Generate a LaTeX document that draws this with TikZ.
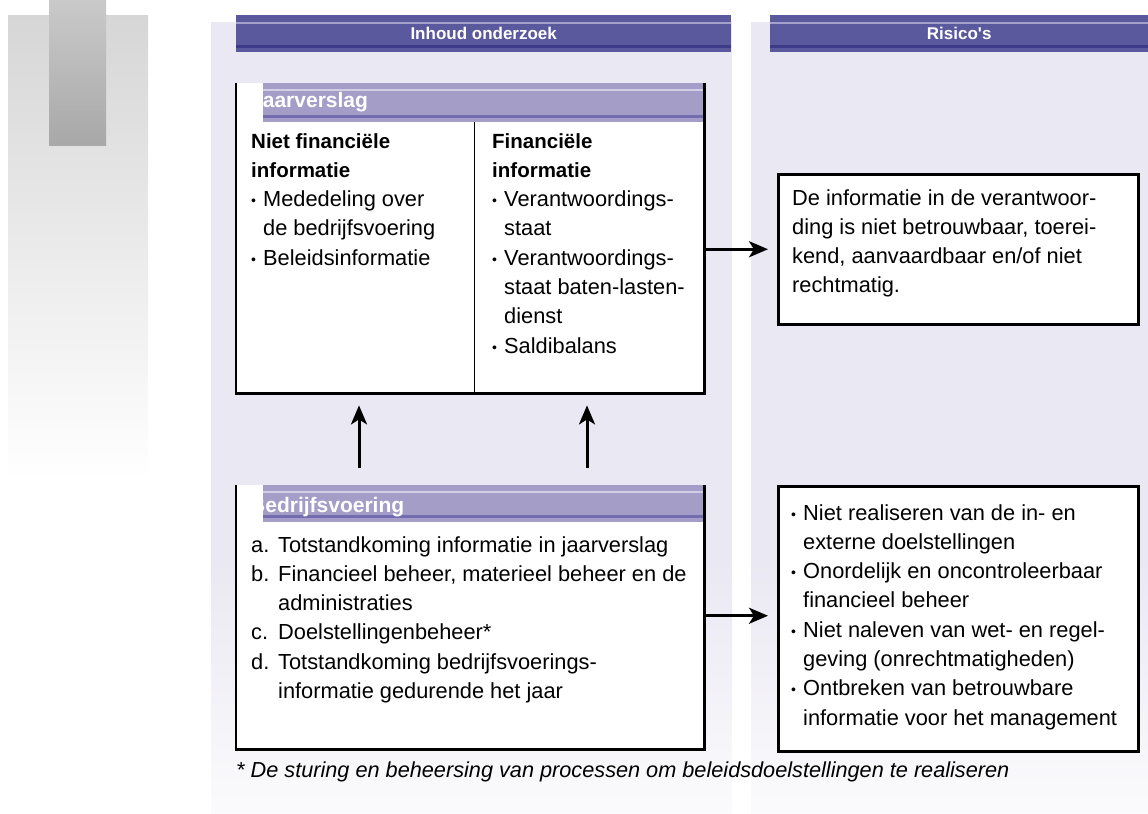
\documentclass[tikz,border=0pt]{standalone}
\usepackage{fontspec}
\setmainfont{Liberation Sans}
\usetikzlibrary{positioning,arrows.meta,calc}

\definecolor{panelBg}{HTML}{EAE8F2}
\definecolor{barDark}{HTML}{5B599D}
\definecolor{barDarkHi}{HTML}{A4A1CC}
\definecolor{barDarkLo}{HTML}{3C3A89}
\definecolor{barLight}{HTML}{A39DC8}
\definecolor{barLightHi}{HTML}{D2CEE6}
\definecolor{barLightLo}{HTML}{736CAE}

\newcommand{\bodyfont}{\fontsize{21.8bp}{29.3bp}\selectfont}
\newcommand{\rows}[1]{\begin{tabular}[t]{@{}l@{}}#1\end{tabular}}
\newcommand{\hd}[1]{{\fontsize{20.5bp}{29.3bp}\selectfont\bfseries #1}}
\newcommand{\bul}{\makebox[12bp][l]{\fontsize{14bp}{14bp}\selectfont\raisebox{1bp}{•}}}
\newcommand{\ind}{\hspace*{12bp}}
\newcommand{\itm}[1]{\makebox[27bp][l]{#1}}

\begin{document}
\begin{tikzpicture}[
    x=1bp, y=-1bp,
    darkbar/.style={rectangle, fill=barDark, text=white, inner sep=0pt, font=\fontsize{17bp}{20bp}\selectfont\bfseries},
    lightbar/.style={rectangle, fill=barLight, inner sep=0pt},
    boxfill/.style={rectangle, fill=white, inner sep=0pt},
    bartitle/.style={anchor=base west, inner sep=0pt, text=white, font=\fontsize{21bp}{24bp}\selectfont\bfseries},
    border/.style={line width=2.5bp, draw=black},
    txt/.style={anchor=base west, inner sep=0pt, font=\bodyfont},
    arrow/.style={-{Stealth[length=19bp, width=16bp, inset=5bp]}, line width=3bp}
]
\useasboundingbox (0,0) rectangle (1148,814);

% --- Background ---
\shade[top color=black!16, bottom color=white] (8,16) rectangle (148,480);
\shade[top color=black!21, bottom color=black!34] (49,0) rectangle (106,145);
\fill[panelBg] (211,22) rectangle (732,560);
\shade[top color=panelBg, bottom color=panelBg!20] (211,560) rectangle (732,814);
\fill[panelBg] (751,22) rectangle (1148,560);
\shade[top color=panelBg, bottom color=panelBg!20] (751,560) rectangle (1148,814);

% --- Column headers ---
\node[darkbar, anchor=north west, minimum width=495bp, minimum height=37bp] (hInhoud) at (236,15) {Inhoud onderzoek};
\node[darkbar, anchor=north west, minimum width=378bp, minimum height=37bp] (hRisico) at (770,15) {Risico\textquotesingle s};
\foreach \h in {hInhoud, hRisico} {
  \draw[barDarkHi, line width=1.5bp] ([yshift=-8bp]\h.north west) -- ([yshift=-8bp]\h.north east);
  \draw[barDarkLo, line width=3bp] ([yshift=6bp]\h.south west) -- ([yshift=6bp]\h.south east);
}

% --- Jaarverslag ---
\node[boxfill, anchor=north west, minimum width=468bp, minimum height=310bp] (jaar) at (236,83) {};
\node[lightbar, anchor=north east, minimum width=441bp, minimum height=39bp] (jaarHead) at (jaar.north east) {};
\draw[barLightHi, line width=1.5bp] ([yshift=-7bp]jaarHead.north west) -- ([yshift=-7bp]jaarHead.north east);
\draw[barLightLo, line width=2.5bp] ([yshift=6bp]jaarHead.south west) -- ([yshift=6bp]jaarHead.south east);
\begin{scope}
  \clip (jaarHead.south west) rectangle (jaarHead.north east);
  \node[bartitle] (jaarTitle) at (251,108) {Jaarverslag};
\end{scope}
\draw[line width=1bp] (474,122) -- (474,393);
\node[txt] (nietFin) at (251,148) {\rows{\hd{Niet financiële}\\
  \hd{informatie}\\
  \bul Mededeling over\\
  \ind de bedrijfsvoering\\
  \bul Beleidsinformatie}};
\node[txt] (fin) at (492,148) {\rows{\hd{Financiële}\\
  \hd{informatie}\\
  \bul Verantwoordings-\\
  \ind staat\\
  \bul Verantwoordings-\\
  \ind staat baten-lasten-\\
  \ind dienst\\
  \bul Saldibalans}};
\draw[border] (jaar.north west) -- (jaar.south west) -- (jaar.south east) -- (jaar.north east);

% --- Bedrijfsvoering ---
\node[boxfill, anchor=north west, minimum width=468bp, minimum height=264bp] (bedr) at (236,485) {};
\node[lightbar, anchor=north east, minimum width=441bp, minimum height=37bp] (bedrHead) at (bedr.north east) {};
\draw[barLightHi, line width=1.5bp] ([yshift=-7bp]bedrHead.north west) -- ([yshift=-7bp]bedrHead.north east);
\draw[barLightLo, line width=2.5bp] ([yshift=6bp]bedrHead.south west) -- ([yshift=6bp]bedrHead.south east);
\begin{scope}
  \clip (bedrHead.south west) rectangle (bedrHead.north east);
  \node[bartitle] (bedrTitle) at (250,512) {Bedrijfsvoering};
\end{scope}
\node[txt] (bedrList) at (251,552) {\rows{\itm{a.}Totstandkoming informatie in jaarverslag\\
  \itm{b.}Financieel beheer, materieel beheer en de\\
  \itm{}administraties\\
  \itm{c.}Doelstellingenbeheer*\\
  \itm{d.}Totstandkoming bedrijfsvoerings-\\
  \itm{}informatie gedurende het jaar}};
\draw[border] (bedr.north west) -- (bedr.south west) -- (bedr.south east) -- (bedr.north east);

% --- Risico's ---
\node[boxfill, border, anchor=north west, minimum width=360bp, minimum height=150bp] (risk1) at (777,173) {};
\node[txt] (risk1Txt) at (792,205) {\rows{De informatie in de verantwoor-\\
  ding is niet betrouwbaar, toerei-\\
  kend, aanvaardbaar en/of niet\\
  rechtmatig.}};

\node[boxfill, border, anchor=north west, minimum width=360bp, minimum height=265bp] (risk2) at (777,485) {};
\node[txt] (risk2Txt) at (791,520) {\rows{\bul Niet realiseren van de in- en\\
  \ind externe doelstellingen\\
  \bul Onordelijk en oncontroleerbaar\\
  \ind financieel beheer\\
  \bul Niet naleven van wet- en regel-\\
  \ind geving (onrechtmatigheden)\\
  \bul Ontbreken van betrouwbare\\
  \ind informatie voor het management}};

% --- Arrows ---
\coordinate (colA) at (359,0);
\coordinate (colB) at (587,0);
\draw[arrow, shorten <=17bp, shorten >=12bp] (bedr.north -| colA) -- (jaar.south -| colA);
\draw[arrow, shorten <=17bp, shorten >=12bp] (bedr.north -| colB) -- (jaar.south -| colB);
\draw[arrow, shorten >=9bp] (risk1.west -| jaar.east) -- (risk1.west);
\draw[arrow, shorten >=9bp] ([yshift=3bp]risk2.west -| bedr.east) -- ([yshift=3bp]risk2.west);

% --- Footnote ---
\node[txt, font=\fontsize{21.7bp}{25bp}\selectfont\itshape] (note) at (236,777) {* De sturing en beheersing van processen om beleidsdoelstellingen te realiseren};

\end{tikzpicture}
\end{document}
